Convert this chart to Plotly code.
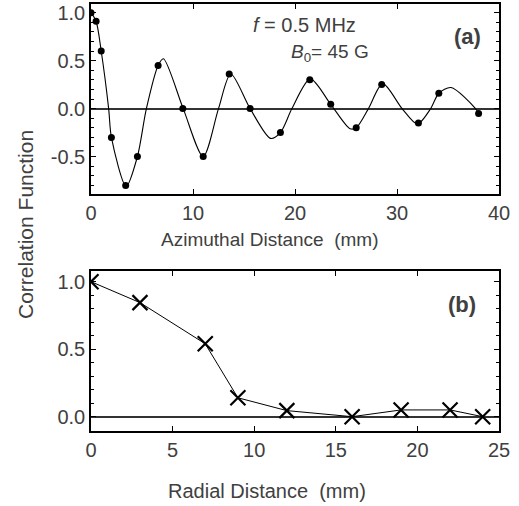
import plotly.graph_objects as go
from plotly.subplots import make_subplots

# panel (a): measured points (azimuthal)
azi_x = [0, 0.5, 1.0, 2.0, 3.4, 4.55, 6.58, 9.0, 11.0, 13.55, 15.6, 18.57, 21.45, 23.5, 26.0, 28.5, 32.1, 34.1, 38.0]
azi_y = [1.0, 0.91, 0.60, -0.30, -0.80, -0.50, 0.45, 0.0, -0.50, 0.36, 0.0, -0.25, 0.30, 0.045, -0.20, 0.25, -0.15, 0.16, -0.05]

# panel (a): fitted curve
fit_x = [0, 0.5, 1.0, 1.73, 2.0, 3.45, 4.55, 5.43, 6.58, 7.1, 9.04, 11.0, 12.5, 13.7, 15.6, 17.6, 18.57, 19.7, 21.5, 23.5, 25.4, 26.0, 27.2, 28.6, 30.5, 32.0, 33.3, 34.1, 35.3, 37.7, 38.0]
fit_y = [1.0, 0.91, 0.60, 0.0, -0.30, -0.81, -0.50, 0.0, 0.45, 0.52, 0.0, -0.50, 0.0, 0.36, 0.0, -0.31, -0.25, 0.0, 0.31, 0.045, -0.21, -0.20, 0.0, 0.26, 0.0, -0.16, 0.0, 0.16, 0.22, 0.0, -0.05]

# panel (b): radial
rad_x = [0, 3, 7, 9, 12, 16, 19, 22, 24]
rad_y = [1.0, 0.845, 0.54, 0.14, 0.045, 0.0, 0.05, 0.05, 0.0]

TXT = '#404040'
FONT = 'Liberation Sans, Arial, sans-serif'

fig = make_subplots(rows=2, cols=1, vertical_spacing=0.18)

fig.add_trace(go.Scatter(x=fit_x, y=fit_y, mode='lines',
                         line=dict(color='black', width=1.1, shape='spline', smoothing=0.8),
                         hoverinfo='skip'), row=1, col=1)
fig.add_trace(go.Scatter(x=azi_x, y=azi_y, mode='markers',
                         marker=dict(color='black', size=7, symbol='circle')), row=1, col=1)
fig.add_trace(go.Scatter(x=rad_x, y=rad_y, mode='lines+markers',
                         line=dict(color='black', width=1),
                         marker=dict(symbol='x-thin', size=15, line=dict(color='black', width=2.2))),
              row=2, col=1)

axis_common = dict(showline=True, mirror='allticks', linecolor='black', linewidth=1.5,
                   ticks='inside', ticklen=5, tickcolor='black', showgrid=False, automargin=False,
                   tickfont=dict(size=20, color=TXT, family=FONT))

fig.update_xaxes(axis_common)
fig.update_yaxes(axis_common)

fig.update_xaxes(range=[0, 40], dtick=10, zeroline=False, domain=[0, 1], row=1, col=1)
fig.update_yaxes(range=[-0.89, 1.09], tickvals=[-0.5, 0, 0.5, 1.0],
                 ticktext=['-0.5', '0.0', '0.5', '1.0'],
                 zeroline=True, zerolinecolor='#333', zerolinewidth=1.5,
                 minor=dict(dtick=0.1, ticks='inside', ticklen=3, tickcolor='black'),
                 domain=[0.555, 1.0], row=1, col=1)

fig.update_xaxes(range=[0, 25], dtick=5, zeroline=False, row=2, col=1)
fig.update_yaxes(range=[-0.106, 1.08], tickvals=[0, 0.5, 1.0],
                 ticktext=['0.0', '0.5', '1.0'],
                 zeroline=True, zerolinecolor='#333', zerolinewidth=1.5,
                 minor=dict(dtick=0.1, ticks='inside', ticklen=3, tickcolor='black'),
                 domain=[0, 0.375], row=2, col=1)


def px(x):
    return (x - 91) / 408


def py(y):
    return (431 - y) / 427


annotations = [
    dict(text='<i>f</i> = 0.5 MHz', x=px(304), y=py(25), font=dict(size=20, color=TXT, family=FONT)),
    dict(text='<i>B</i><sub>0</sub>= 45 G', x=px(330), y=py(53)),
    dict(text='<b>(a)</b>', x=px(467), y=py(37), font=dict(size=22, color=TXT, family=FONT)),
    dict(text='<b>(b)</b>', x=px(462), y=py(304), font=dict(size=22, color=TXT, family=FONT)),
    dict(text='Azimuthal Distance  (mm)', x=px(270), y=py(240)),
    dict(text='Radial Distance  (mm)', x=px(267), y=py(491), font=dict(size=20, color=TXT, family=FONT)),
    dict(text='Correlation Function', x=px(25), y=py(225), textangle=-90,
         font=dict(size=21, color=TXT, family=FONT)),
]
for a in annotations:
    a.setdefault('font', dict(size=19, color=TXT, family=FONT))
    a.update(xref='paper', yref='paper', showarrow=False, xanchor='center', yanchor='middle')

fig.update_layout(width=519, height=506, margin=dict(l=91, r=20, t=4, b=75),
                  plot_bgcolor='white', paper_bgcolor='white', showlegend=False,
                  annotations=annotations)

fig.write_html("out.html", config={'displayModeBar': False},
               post_script="document.body.style.margin='0';")
